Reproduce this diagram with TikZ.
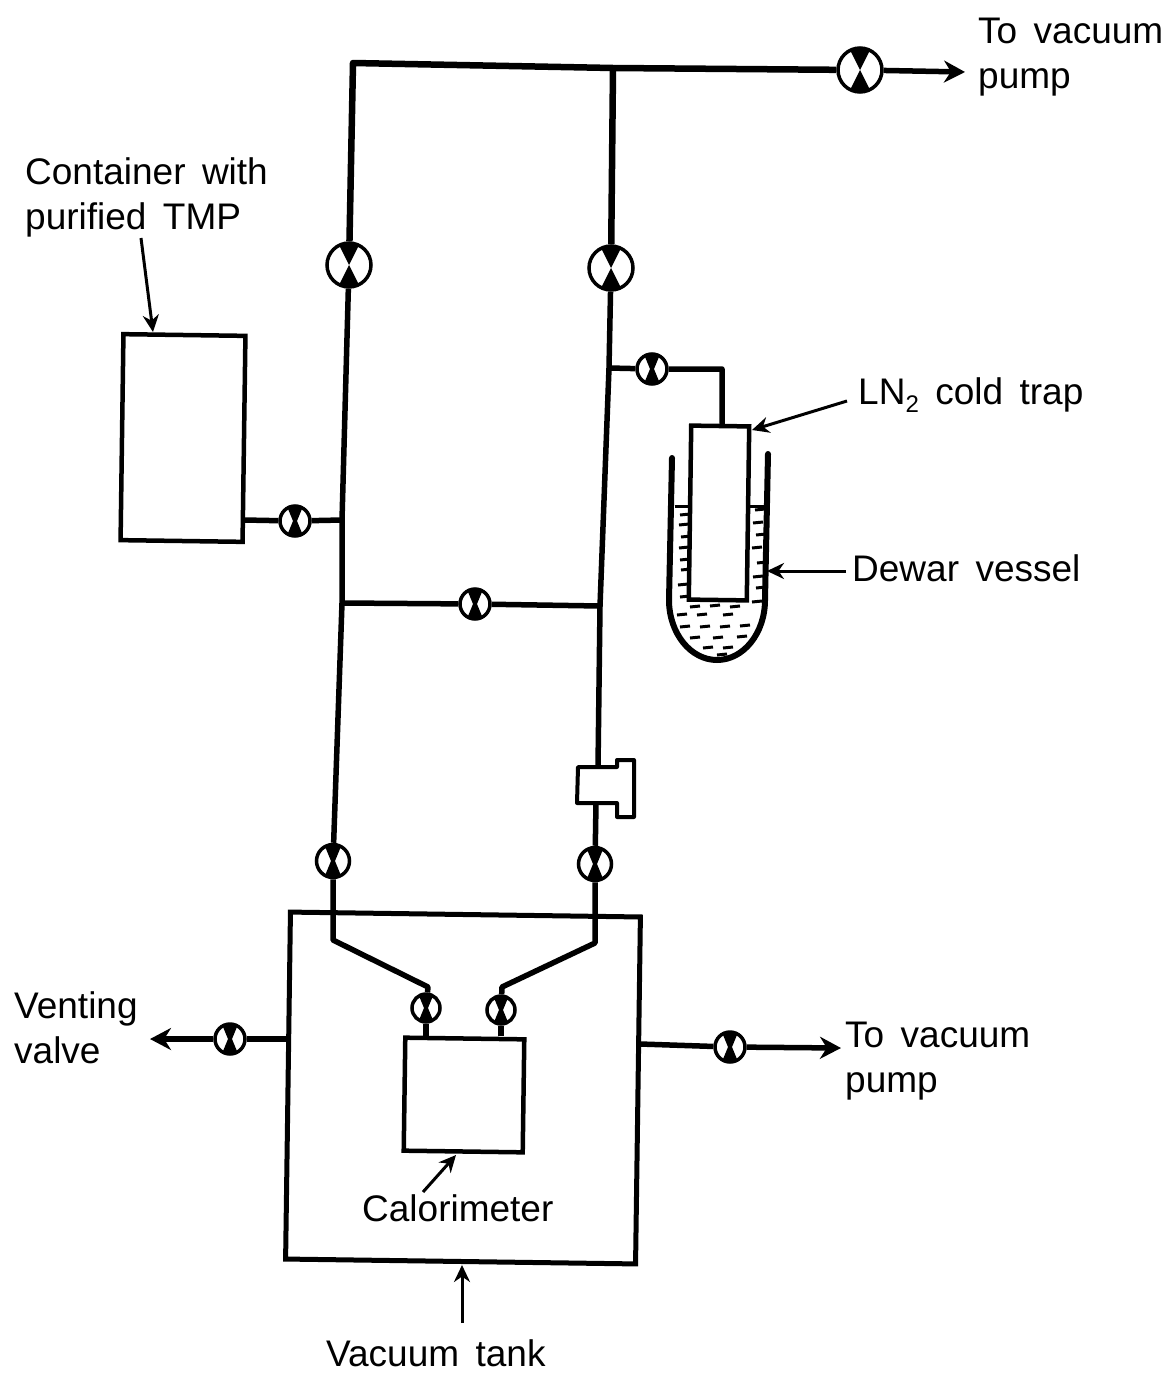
\documentclass[tikz,border=0pt]{standalone}
\usepackage{fontspec}
\usepackage{tikz}
\setmainfont[WordSpace=1.6]{Liberation Sans}
\usetikzlibrary{arrows.meta}

\begin{document}
\begin{tikzpicture}[
  x=1pt,y=-1pt,
  pipe/.style={line width=6.5pt,line join=round},
  thinpipe/.style={line width=5.5pt,line join=round},
  box/.style={draw,line width=4.5pt,inner sep=0pt,rotate=-0.8},
  valve/.style={circle,draw,line width=3.5pt,inner sep=0pt,minimum size=44pt,fill=white,
    path picture={
      \fill[black] (path picture bounding box.center) -- ++(-13pt,-26pt) -- ++(26pt,0pt) -- cycle;
      \fill[black] (path picture bounding box.center) -- ++(-13pt,26pt) -- ++(26pt,0pt) -- cycle;
    }},
  smallvalve/.style={circle,draw,line width=3.5pt,inner sep=0pt,minimum size=30pt,fill=white,
    path picture={
      \fill[black] (path picture bounding box.center) ++(-2pt,0pt) -- ++(-7pt,-17pt) -- ++(18pt,0pt) -- ++(-7pt,17pt) -- cycle;
      \fill[black] (path picture bounding box.center) ++(-2pt,0pt) -- ++(-7pt,17pt) -- ++(18pt,0pt) -- ++(-7pt,-17pt) -- cycle;
    }},
  label/.style={font=\fontsize{37}{45}\selectfont,align=left,inner sep=0pt,anchor=west},
  pointer/.style={line width=3pt,-{Stealth[length=17pt,width=16pt]}},
  outlet/.style={line width=5.5pt,-{Stealth[length=21pt,width=22pt]}}
]
  \useasboundingbox (0,0) rectangle (1166,1373);

  \node[box,minimum width=122pt,minimum height=206pt] (container) at (183,438) {};
  \node[box,line width=5pt,minimum width=350pt,minimum height=347pt] (tank) at (463,1088) {};
  \node[box,minimum width=119pt,minimum height=113pt] (calorimeter) at (464,1095) {};
  \node[box,minimum width=58pt,minimum height=174pt] (trap) at (719,513) {};

  \node[valve] (vtop) at (860,70) {};
  \node[valve] (vleft) at (349,265) {};
  \node[valve] (vright) at (611,268) {};
  \node[smallvalve] (vtrap) at (652,369) {};
  \node[smallvalve] (vcontainer) at (295,521) {};
  \node[smallvalve] (vcross) at (475,604) {};
  \node[smallvalve,minimum size=33pt] (vtankl) at (333,861) {};
  \node[smallvalve,minimum size=33pt] (vtankr) at (595,864) {};
  \node[smallvalve,minimum size=28pt] (vcall) at (426,1008) {};
  \node[smallvalve,minimum size=28pt] (vcalr) at (501,1010) {};
  \node[smallvalve] (vvent) at (230,1039) {};
  \node[smallvalve] (vpump) at (730,1047) {};

  \coordinate (corner) at (353,63);
  \coordinate (teeright) at (613,68);
  \coordinate (pumptip) at (965,72);
  \coordinate (teetrap) at (609,368);
  \coordinate (bendtrap) at (722,369);
  \coordinate (containerroot) at (244,520);
  \coordinate (teecontainer) at (342,520);
  \coordinate (crossl) at (342,603);
  \coordinate (crossr) at (600,606);
  \coordinate (sealtop) at (598,767);
  \coordinate (sealbot) at (596,803);
  \coordinate (bendl) at (333,940);
  \coordinate (bendr) at (595,943);
  \coordinate (kneel) at (428,987);
  \coordinate (kneer) at (502,987);
  \coordinate (venttip) at (150,1039);
  \coordinate (ventroot) at (289,1039);
  \coordinate (pumproot) at (640,1044);
  \coordinate (lowtip) at (841,1048);

  \draw[pipe] (vleft) -- (corner) -- (teeright) -- (vtop);
  \draw[outlet] (vtop) -- (pumptip);
  \draw[pipe] (teeright) -- (vright);
  \draw[thinpipe] (vleft) -- (teecontainer) -- (crossl) -- (vtankl);
  \draw[thinpipe] (vright) -- (teetrap) -- (crossr) -- (sealtop);
  \draw[thinpipe] (sealbot) -- (vtankr);
  \draw[thinpipe] (vtankl) -- (bendl) -- (kneel) -- (vcall);
  \draw[thinpipe] (vtankr) -- (bendr) -- (kneer) -- (vcalr);
  \draw[thinpipe] (vcall) -- (vcall |- calorimeter.north);
  \draw[thinpipe] (vcalr) -- (vcalr |- calorimeter.north);
  \draw[thinpipe] (teetrap) -- (vtrap) -- (bendtrap) -- (bendtrap |- trap.north);
  \draw[thinpipe] (containerroot) -- (vcontainer) -- (teecontainer);
  \draw[thinpipe] (crossl) -- (vcross) -- (crossr);
  \draw[outlet] (vvent) -- (venttip);
  \draw[thinpipe] (ventroot) -- (vvent);
  \draw[thinpipe] (pumproot) -- (vpump);
  \draw[outlet] (vpump) -- (lowtip);

  \draw[line width=4pt,line join=round] (578,767) -- (617,767) -- (617,760) -- (634,760) -- (634,817) -- (617,817) -- (617,803) -- (577,803) -- cycle;

  \draw[line width=6pt,line cap=round] (672,458) -- (669,600) arc[start angle=180,delta angle=-180,x radius=48,y radius=60];
  \draw[line width=6pt,line cap=round] (768,454) -- (765,600);

  \draw[line width=3pt] (675,506) -- (689,506);
  \draw[line width=3pt] (748,506) -- (765,506);
  \foreach \x/\y in {680/515,679/525,681/537,679/548,680/560,681/570,678/585,680/597,
      755/510,753/523,756/535,752/548,757/563,753/577,756/588,752/602,
      690/607,710/606,730/607,677/615,697/615,723/615,680/627,700/627,720/627,740/626,
      690/638,713/638,737/637,703/648,723/648,717/655}
    \draw[line width=3pt] (\x,\y) -- ++(10,-1);

  \node[label] (lbltop) at (978,57) {To vacuum\\pump};
  \node[label] (lblcontainer) at (25,197) {Container with\\purified TMP};
  \node[label] (lbltrap) at (858,395) {LN\raisebox{-8pt}{\fontsize{24}{24}\selectfont 2} cold trap};
  \node[label] (lbldewar) at (852,568) {Dewar vessel};
  \node[label] (lblvent) at (14,1028) {Venting\\valve};
  \node[label] (lblpump) at (845,1061) {To vacuum\\pump};
  \node[label] (lblcal) at (362,1208) {Calorimeter};
  \node[label] (lbltank) at (326,1353) {Vacuum tank};

  \draw[pointer] (141,238) -- (153,332);
  \draw[pointer] (847,401) -- (752,430);
  \draw[pointer] (846,571) -- (767,571);
  \draw[pointer] (423,1192) -- (456,1155);
  \draw[pointer] (462,1323) -- (462,1265);
\end{tikzpicture}
\end{document}
